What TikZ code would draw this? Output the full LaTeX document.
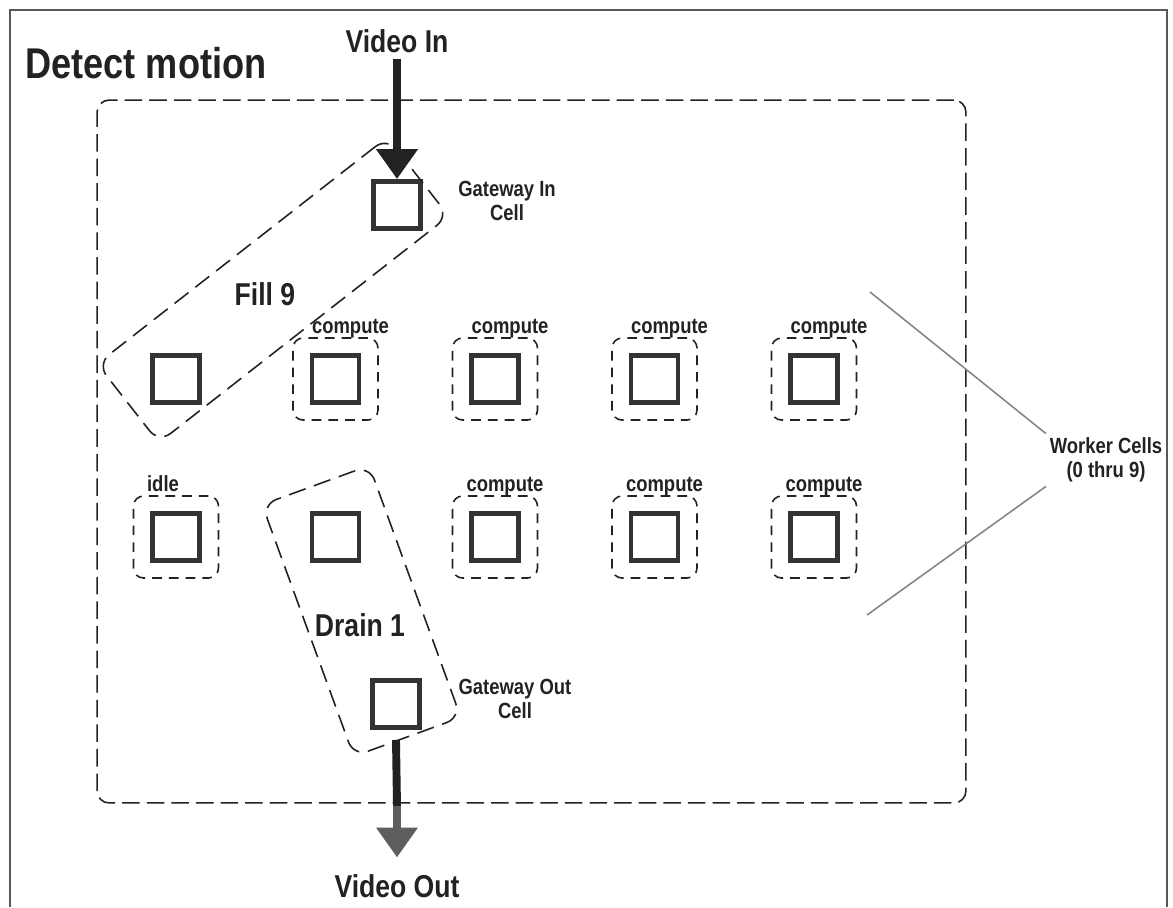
\documentclass[tikz,border=0pt]{standalone}
\usepackage{fontspec}
\setmainfont[FakeStretch=0.84]{Liberation Sans}
\usetikzlibrary{arrows.meta}
\definecolor{ink}{HTML}{222222}
\definecolor{cellgray}{HTML}{333333}
\definecolor{outgray}{HTML}{5E5E5E}
\definecolor{leadgray}{HTML}{858585}
\tikzset{
  cell/.style={draw=cellgray, line width=2.8pt, minimum size=0.94cm, inner sep=0pt},
  statebox/.style={draw=ink, dash pattern=on 5.5pt off 4pt, line width=0.9pt,
    rounded corners=0.2cm, minimum width=1.7cm, minimum height=1.64cm},
  groupbox/.style={draw=ink, dash pattern=on 10pt off 5pt, line width=0.9pt, rounded corners=0.3cm},
  statelabel/.style={anchor=base, font=\fontsize{12.5}{14}\selectfont\bfseries, text=ink, inner sep=0pt},
  smalllabel/.style={align=center, font=\fontsize{12.5}{14}\selectfont\bfseries, text=ink},
  biglabel/.style={anchor=base, font=\fontsize{18}{20}\selectfont\bfseries, text=ink},
  shaft/.style={draw=ink, line width=4.5pt},
  lead/.style={draw=leadgray, line width=0.9pt},
}
\begin{document}
\begin{tikzpicture}[x=0.02cm, y=-0.02cm]
            \useasboundingbox (0,0) rectangle (1173,907);
            % sheet edge
            \draw[line width=1.6pt, draw=black!65] (10,907) -- (10,10) -- (1167,10) -- (1167,907);
            \node[anchor=base west, font=\fontsize{24.5}{28}\selectfont\bfseries, text=ink, inner sep=0pt] (title) at (25,78) {Detect motion};
            \node[groupbox, dash pattern=on 10pt off 4pt, rounded corners=0.24cm, minimum width=17.38cm, minimum height=14.06cm] (motion) at (531.5,451.5) {};
            % worker cells, two rows of five
            \foreach \r in {1,2}
            {
            \pgfmathparse{(\r==1) ? 379 : 537};
            \edef\cy{\pgfmathresult};
            \foreach \c in {1,...,5}
            {
            \pgfmathparse{176+159.5*(\c-1)};
            \edef\cx{\pgfmathresult};
            \pgfmathparse{int(5*(\r-1)+\c-1)};
            \edef\k{\pgfmathresult};
            \node (w\k) at (\cx, \cy)[cell]{};
            }
            }
            \foreach \k in {1,2,3,4,7,8,9}
            {
            \pgfmathparse{(\k<5) ? 0.3 : 0.2};
            \edef\dx{\pgfmathresult};
            \node (box\k) at (w\k)[statebox]{};
            \node[statelabel] at ([xshift=\dx cm, yshift=0.07cm]box\k.north){compute};
            }
            \node (box5) at (w5)[statebox]{};
            \node[statelabel] at ([xshift=-0.26cm, yshift=0.08cm]box5.north){idle};
            % gateways
            \node (gwin) at (397,205)[cell]{};
            \node (gwout) at (396,704)[cell]{};
            \node[smalllabel] (gwinlabel) at (507,201) {Gateway In\\Cell};
            \node[smalllabel] (gwoutlabel) at (515,699) {Gateway Out\\Cell};
            % fill and drain groups
            \node[groupbox, rotate=38, minimum width=7.36cm, minimum height=2cm] (fill) at (273,290) {};
            \node[groupbox, rotate=20, minimum width=2.28cm, minimum height=5.36cm] (drain) at (361.5,611) {};
            \node[biglabel] (filllabel) at (265,305) {Fill 9};
            \node[biglabel] (drainlabel) at (360,636) {Drain 1};
            % video in and out
            \node[biglabel] (vin) at (397,52) {Video In};
            \node[biglabel] (vout) at (397,897) {Video Out};
            \draw[shaft, -{Triangle[width=22.7pt, length=17pt]}] (vin.south) -- (gwin.north);
            \coordinate (vsplit) at (397,806);
            \draw[shaft] ([yshift=-0.2cm]gwout.south) -- (vsplit);
            \draw[shaft, draw=outgray, -{Triangle[width=22.7pt, length=17pt]}] (vsplit) -- ([yshift=0.21cm]vout.north);
            % worker callout
            \node[smalllabel, inner sep=2pt] (workers) at (1106,460) {Worker Cells\\(0 thru 9)};
            \coordinate (wtop) at (870,292);
            \coordinate (wbot) at (867,615);
            \draw[lead] (wtop) -- (workers.north west);
            \draw[lead] (wbot) -- (workers.south west);
\end{tikzpicture}
\end{document}
